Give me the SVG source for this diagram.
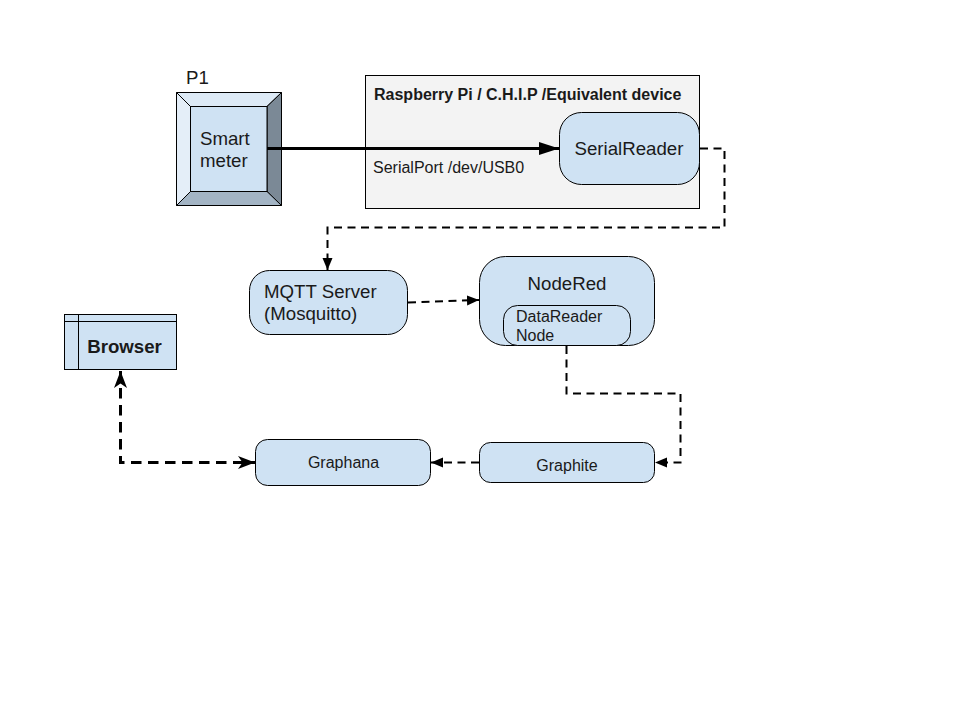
<svg xmlns="http://www.w3.org/2000/svg" width="960" height="720" viewBox="0 0 960 720">
<style>
text{font-family:"Liberation Sans",Arial,sans-serif;fill:#1a1a1a}
.n{fill:#cfe2f3;stroke:#000;stroke-width:1}
.c{fill:none;stroke:#000;stroke-width:2}
.d{stroke-dasharray:8 5.5}
.e{stroke:#000;stroke-width:1}
</style>
<defs>
<marker id="tri" markerUnits="userSpaceOnUse" markerWidth="14" markerHeight="12" refX="12" refY="6" orient="auto"><path d="M0 1L12 6L0 11Z" fill="#000"/></marker>
<marker id="big" markerUnits="userSpaceOnUse" markerWidth="22" markerHeight="16" refX="20" refY="8" orient="auto"><path d="M0 1.5L20 8L0 14.5Z" fill="#000"/></marker>
<marker id="st" markerUnits="userSpaceOnUse" markerWidth="18" markerHeight="14" refX="17" refY="7" orient="auto-start-reverse"><path d="M0 0.500L17 7L0 13.500L4.500 7Z" fill="#000"/></marker>
</defs>
<g id="device"><rect x="365.500" y="75.500" width="334" height="133" fill="#f3f3f3" stroke="#000"/><text x="374" y="100" font-size="16" font-weight="bold">Raspberry Pi / C.H.I.P /Equivalent device</text><text x="373" y="173" font-size="16">SerialPort /dev/USB0</text></g>
<g id="p1-label"><text x="186" y="84" font-size="18.670">P1</text></g>
<g id="smart-meter">
<rect x="176.500" y="92.500" width="105" height="113" fill="#cfe2f3"/>
<path d="M176.500 92.500H281.500L267 106.500H190.500Z" fill="#ddeaf6" class="e"/>
<path d="M176.500 92.500L190.500 106.500V191.500L176.500 205.500Z" fill="#e4eef8" class="e"/>
<path d="M281.500 92.500V205.500L267 191.500V106.500Z" fill="#7b8996" class="e"/>
<path d="M176.500 205.500L190.500 191.500H267L281.500 205.500Z" fill="#a3b4c4" class="e"/>
<rect x="190.500" y="106.500" width="76.500" height="85" class="n"/>
<text x="200" y="145" font-size="18.670">Smart</text><text x="200" y="167" font-size="18.670">meter</text></g>
<g id="serial-reader"><rect x="559.500" y="112.500" width="140" height="72" rx="22" class="n"/><text x="629" y="155" font-size="18.670" text-anchor="middle">SerialReader</text></g>
<g id="mqtt"><rect x="249.500" y="270.500" width="158" height="64" rx="20" class="n"/><text x="264" y="298" font-size="18.670">MQTT Server</text><text x="264" y="320" font-size="18.670">(Mosquitto)</text></g>
<g id="nodered"><rect x="479.500" y="256.500" width="175" height="89" rx="26" class="n"/><text x="567" y="290" font-size="18.670" text-anchor="middle">NodeRed</text></g>
<g id="datareader"><rect x="503.500" y="305.500" width="127" height="40" rx="14" class="n"/><text x="516" y="322" font-size="16">DataReader</text><text x="516" y="341" font-size="16">Node</text></g>
<g id="browser"><rect x="64.500" y="314.500" width="112" height="55" class="n"/><path d="M64.500 321.500H176.500M78.500 314.500V369.500" fill="none" stroke="#000"/><text x="124.500" y="353" font-size="18.670" font-weight="bold" text-anchor="middle">Browser</text></g>
<g id="graphana"><rect x="255.500" y="439.500" width="175" height="46" rx="12" class="n"/><text x="343.500" y="467.500" font-size="16" text-anchor="middle">Graphana</text></g>
<g id="graphite"><rect x="479.500" y="442.500" width="175" height="40" rx="11" class="n"/><text x="567" y="470.500" font-size="16" text-anchor="middle">Graphite</text></g>
<g id="connectors">
<path d="M267 148.500H559" fill="none" stroke="#000" stroke-width="3" marker-end="url(#big)"/>
<path d="M700 148.500H724.500V227.500H327.500V270" class="c d" marker-end="url(#tri)"/>
<path d="M408 302.500L479 300" class="c d" marker-end="url(#tri)"/>
<path d="M566.500 346V393.500H680.500V462.500H655" class="c d" marker-end="url(#tri)"/>
<path d="M479 462.500H431" class="c d" marker-end="url(#tri)"/>
<path d="M120.500 371V462.500H255" fill="none" stroke="#000" stroke-width="3" stroke-dasharray="10.500 6.500" marker-start="url(#st)" marker-end="url(#st)"/>
</g>
</svg>
